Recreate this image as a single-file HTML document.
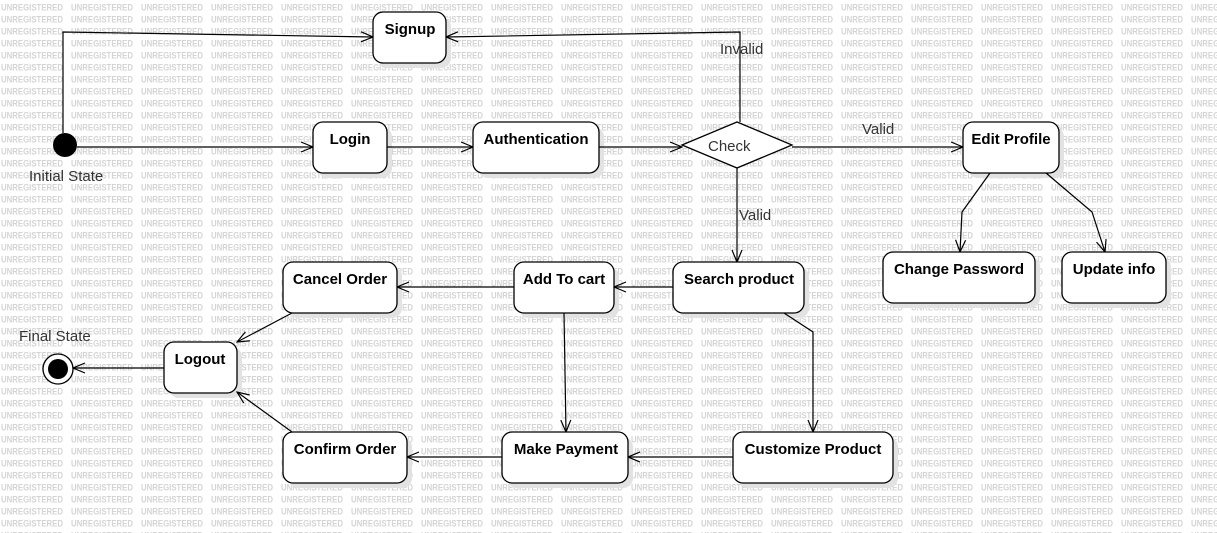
<!DOCTYPE html>
<html><head><meta charset="utf-8"><style>
html,body{margin:0;padding:0;background:#fff;}
svg{display:block;}
.b{font-family:"Liberation Sans",sans-serif;font-weight:bold;font-size:15px;fill:#000;text-anchor:middle;}
.r{font-family:"Liberation Sans",sans-serif;font-size:15px;fill:#333;}
.wm{font-family:"Liberation Sans",sans-serif;font-size:9px;font-weight:bold;fill:#d4d4d4;}
</style></head><body>
<svg width="1217" height="533" viewBox="0 0 1217 533" xmlns="http://www.w3.org/2000/svg">
<defs>
<pattern id="wm" x="0" y="0" width="70" height="12" patternUnits="userSpaceOnUse">
<text class="wm" x="1" y="10.5" textLength="62" lengthAdjust="spacingAndGlyphs">UNREGISTERED</text>
</pattern>
<marker id="a" markerWidth="14" markerHeight="12" refX="13" refY="6" orient="auto" markerUnits="userSpaceOnUse">
<path d="M1,1 L13,6 L1,11" fill="none" stroke="#000" stroke-width="1.2"/>
</marker>
</defs>
<rect width="1217" height="533" fill="#fff"/>
<rect width="1217" height="533" fill="url(#wm)"/>

<g fill="#e2e2e2">
<rect x="378" y="17" width="73" height="51" rx="10"/>
<rect x="318" y="127" width="74" height="51" rx="10"/>
<rect x="478" y="127" width="126" height="51" rx="10"/>
<rect x="968" y="127" width="96" height="51" rx="10"/>
<rect x="888" y="257" width="152" height="51" rx="10"/>
<rect x="1067" y="257" width="104" height="51" rx="10"/>
<rect x="678" y="267" width="131" height="51" rx="10"/>
<rect x="519" y="267" width="100" height="51" rx="10"/>
<rect x="288" y="267" width="114" height="51" rx="10"/>
<rect x="169" y="347" width="73" height="51" rx="10"/>
<rect x="507" y="437" width="126" height="51" rx="10"/>
<rect x="738" y="437" width="160" height="51" rx="10"/>
<rect x="288" y="437" width="124" height="51" rx="10"/>
</g>

<g fill="none" stroke="#000" stroke-width="1.2">
<polyline points="63,133 63,32 373,37" marker-end="url(#a)"/>
<line x1="77" y1="147" x2="313" y2="147" marker-end="url(#a)"/>
<polyline points="740,122 740,32 446,37" marker-end="url(#a)"/>
<line x1="387" y1="147" x2="473" y2="147" marker-end="url(#a)"/>
<line x1="599" y1="147" x2="682" y2="147" marker-end="url(#a)"/>
<line x1="792" y1="147" x2="963" y2="147" marker-end="url(#a)"/>
<line x1="737" y1="168" x2="737" y2="262" marker-end="url(#a)"/>
<polyline points="990,173 962,212 960,252" marker-end="url(#a)"/>
<polyline points="1046,173 1092,212 1105,252" marker-end="url(#a)"/>
<line x1="673" y1="287" x2="614" y2="287" marker-end="url(#a)"/>
<line x1="514" y1="287" x2="397" y2="287" marker-end="url(#a)"/>
<line x1="292" y1="313" x2="237" y2="342" marker-end="url(#a)"/>
<line x1="164" y1="368" x2="73" y2="368" marker-end="url(#a)"/>
<line x1="564" y1="313" x2="566" y2="432" marker-end="url(#a)"/>
<polyline points="784,313 813,332 813,432" marker-end="url(#a)"/>
<line x1="733" y1="457" x2="628" y2="457" marker-end="url(#a)"/>
<line x1="502" y1="457" x2="407" y2="457" marker-end="url(#a)"/>
<line x1="292" y1="432" x2="237" y2="392" marker-end="url(#a)"/>
</g>

<g fill="#fff" stroke="#000" stroke-width="1.3">
<rect x="373" y="12" width="73" height="51" rx="10"/>
<rect x="313" y="122" width="74" height="51" rx="10"/>
<rect x="473" y="122" width="126" height="51" rx="10"/>
<rect x="963" y="122" width="96" height="51" rx="10"/>
<rect x="883" y="252" width="152" height="51" rx="10"/>
<rect x="1062" y="252" width="104" height="51" rx="10"/>
<rect x="673" y="262" width="131" height="51" rx="10"/>
<rect x="514" y="262" width="100" height="51" rx="10"/>
<rect x="283" y="262" width="114" height="51" rx="10"/>
<rect x="164" y="342" width="73" height="51" rx="10"/>
<rect x="502" y="432" width="126" height="51" rx="10"/>
<rect x="733" y="432" width="160" height="51" rx="10"/>
<rect x="283" y="432" width="124" height="51" rx="10"/>
<polygon points="682,145 737,122 792,145 737,168"/>
</g>

<circle cx="65" cy="145" r="12" fill="#000"/>
<circle cx="58" cy="369" r="15" fill="#fff" stroke="#000" stroke-width="1.3"/>
<circle cx="58" cy="369" r="10" fill="#000"/>

<g>
<text class="b" x="410" y="34">Signup</text>
<text class="b" x="350" y="144">Login</text>
<text class="b" x="536" y="144">Authentication</text>
<text class="b" x="1011" y="144">Edit Profile</text>
<text class="b" x="959" y="274">Change Password</text>
<text class="b" x="1114" y="274">Update info</text>
<text class="b" x="739" y="284">Search product</text>
<text class="b" x="564" y="284">Add To cart</text>
<text class="b" x="340" y="284">Cancel Order</text>
<text class="b" x="200" y="364">Logout</text>
<text class="b" x="566" y="454">Make Payment</text>
<text class="b" x="813" y="454">Customize Product</text>
<text class="b" x="345" y="454">Confirm Order</text>
</g>
<g>
<text class="r" x="708" y="151">Check</text>
<text class="r" x="720" y="54">Invalid</text>
<text class="r" x="862" y="134">Valid</text>
<text class="r" x="739" y="220">Valid</text>
<text class="r" x="29" y="181">Initial State</text>
<text class="r" x="19" y="341">Final State</text>
</g>
</svg>
</body></html>
